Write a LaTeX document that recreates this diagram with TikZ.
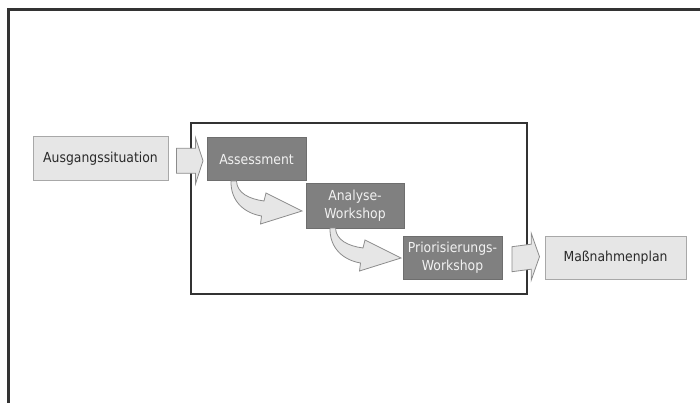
\documentclass[tikz,border=0pt]{standalone}
\usepackage{fontspec}
\setmainfont{DejaVu Sans}[FakeStretch=0.9]
\usetikzlibrary{calc}
\definecolor{framec}{HTML}{333333}
\definecolor{lightf}{HTML}{E6E6E6}
\definecolor{lightd}{HTML}{A8A8A8}
\definecolor{darkf}{HTML}{808080}
\definecolor{darkd}{HTML}{6E6E6E}
\definecolor{darktext}{HTML}{F2F2F2}
\definecolor{lighttext}{HTML}{2A2A2A}
\definecolor{arrowd}{HTML}{8C8C8C}
\tikzset{
  lightbox/.style={draw=lightd, fill=lightf, line width=1pt, inner sep=0pt,
    text=lighttext, font=\fontsize{13.8}{18}\selectfont, align=center},
  darkbox/.style={draw=darkd, fill=darkf, line width=1pt, inner sep=0pt,
    text=darktext, font=\fontsize{13.8}{18}\selectfont, align=center},
  barrow/.style={draw=arrowd, fill=lightf, line width=0.8pt, line join=miter},
  outerframe/.style={draw=framec, line width=2.5pt},
  groupframe/.style={draw=framec, line width=2pt}
}
\begin{document}
\begin{tikzpicture}[x=1pt, y=-1pt]
\useasboundingbox (0,0) rectangle (700,403);
% outer frame (top and left edges)
\draw[outerframe] (8.7,404) -- (8.7,9.5) -- (701,9.5);
% group frame
\draw[groupframe] (190.7,123.3) rectangle (526.5,294);
% boxes
\node[lightbox, minimum width=135pt, minimum height=44pt] (aus) at (100.5,159) {Ausgangssituation};
\node[darkbox, minimum width=99pt, minimum height=43pt] (assess) at (256.5,159.5) {Assessment};
\node[darkbox, minimum width=98pt, minimum height=44pt] (ana) at (355,206) {Analyse-\\Workshop};
\node[darkbox, minimum width=99pt, minimum height=43pt] (prio) at (452.5,257.5) {Priorisierungs-\\Workshop};
\node[lightbox, minimum width=141pt, minimum height=43pt] (mass) at (615.5,257.5) {Maßnahmenplan};
% straight block arrow 1
\coordinate (a1s) at ($(aus.east)+(8,1.8)$);
\coordinate (a1t) at ($(assess.west)+(-3.5,1.3)$);
\draw[barrow] ($(a1s)+(0,-12.5)$) -- ($(a1t)+(-7.5,-12.5)$) -- ($(a1t)+(-7.5,-23)$)
  -- (a1t) -- ($(a1t)+(-7.5,23)$) -- ($(a1t)+(-7.5,12.5)$) -- ($(a1s)+(0,12.5)$) -- cycle;
% straight block arrow 2
\coordinate (a2s) at ($(prio.east)+(9.5,1.7)$);
\coordinate (a2t) at ($(mass.west)+(-5,-0.8)$);
\draw[barrow] ($(a2s)+(0,-12.5)$) -- ($(a2t)+(-8.3,-12.5)$) -- ($(a2t)+(-8.3,-23.5)$)
  -- (a2t) -- ($(a2t)+(-8.3,23.5)$) -- ($(a2t)+(-8.3,12.5)$) -- ($(a2s)+(0,12.5)$) -- cycle;
% curved block arrows
\foreach \src/\dst in {assess/ana, ana/prio}{
  \begin{scope}[shift={($(\src.south west)+(24.5,-0.5)$)}]
    \draw[barrow] (0,0) .. controls (-0.5,20) and (13,32) .. (30.5,35)
      -- (29.5,43) -- (71,30) -- (35,12) -- (33,20)
      .. controls (18,18) and (6,12) .. (5.5,0) -- cycle;
  \end{scope}
}
\end{tikzpicture}
\end{document}
